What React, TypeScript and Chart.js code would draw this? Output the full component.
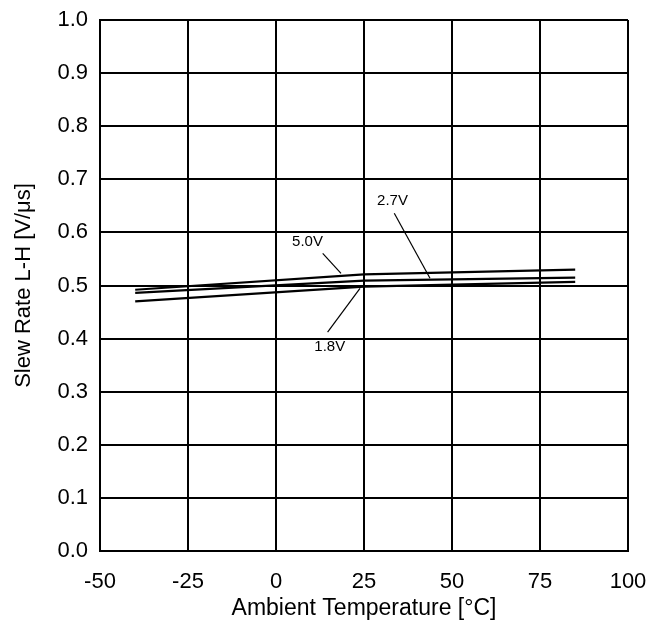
import React, { useEffect, useRef } from "react";
import { Chart, registerables } from "chart.js";

Chart.register(...registerables);

const temps = [-40, 25, 85];
const v50 = [0.492, 0.521, 0.53];
const v27 = [0.486, 0.509, 0.515];
const v18 = [0.47, 0.498, 0.507];

const xTicks = [-50, -25, 0, 25, 50, 75, 100];
const yTicks = [0, 0.1, 0.2, 0.3, 0.4, 0.5, 0.6, 0.7, 0.8, 0.9, 1.0];

const labelNames = ["5.0V", "2.7V", "1.8V"];
// label anchor [x, y], leader start [x, y], leader end [x, y] in data units
const labelAnchors = [
  [8.95, 0.583],
  [33.1, 0.66],
  [15.26, 0.384],
];
const leaderStarts = [
  [13.27, 0.5606],
  [33.6, 0.636],
  [14.66, 0.412],
];
const leaderEnds = [
  [18.47, 0.523],
  [43.75, 0.5136],
  [23.86, 0.4947],
];

const FONT = "Arial, 'Liberation Sans', sans-serif";

const annotationPlugin = {
  id: "curveLabels",
  afterDatasetsDraw(chart: any) {
    const { ctx, scales } = chart;
    const xs = scales.x;
    const ys = scales.y;
    ctx.save();
    ctx.strokeStyle = "#000";
    ctx.lineWidth = 1.2;
    ctx.fillStyle = "#000";
    ctx.font = `15px ${FONT}`;
    ctx.textAlign = "center";
    ctx.textBaseline = "middle";
    labelNames.forEach((name, i) => {
      ctx.beginPath();
      ctx.moveTo(xs.getPixelForValue(leaderStarts[i][0]), ys.getPixelForValue(leaderStarts[i][1]));
      ctx.lineTo(xs.getPixelForValue(leaderEnds[i][0]), ys.getPixelForValue(leaderEnds[i][1]));
      ctx.stroke();
      ctx.fillText(name, xs.getPixelForValue(labelAnchors[i][0]), ys.getPixelForValue(labelAnchors[i][1]));
    });
    ctx.restore();
  },
};

export default function App() {
  const ref = useRef<HTMLCanvasElement>(null);
  useEffect(() => {
    if (!ref.current) return;
    const mk = (data: number[], label: string) => ({
      label,
      data: temps.map((t, i) => ({ x: t, y: data[i] })),
      borderColor: "#000",
      backgroundColor: "#000",
      borderWidth: 2.2,
      pointRadius: 0,
      tension: 0,
      fill: false,
    });
    const chart = new Chart(ref.current, {
      type: "line",
      data: {
        datasets: [mk(v50, "5.0V"), mk(v27, "2.7V"), mk(v18, "1.8V")],
      },
      options: {
        animation: false,
        responsive: false,
        maintainAspectRatio: false,
        layout: { padding: { top: 20, right: 28, left: 0, bottom: 0 } },
        plugins: { legend: { display: false }, tooltip: { enabled: false } },
        scales: {
          x: {
            type: "linear",
            min: -50,
            max: 100,
            afterBuildTicks: (s: any) => {
              s.ticks = xTicks.map((v) => ({ value: v }));
            },
            afterFit: (s: any) => {
              s.height = 79;
              s.paddingLeft = 0;
              s.paddingRight = 0;
            },
            grid: { color: "#000", lineWidth: 2, drawTicks: false },
            border: { color: "#000", width: 2 },
            ticks: {
              color: "#000",
              font: { family: FONT, size: 22 },
              padding: 18,
              maxRotation: 0,
              callback: (v: any) => String(v),
            },
            title: {
              display: true,
              text: "Ambient Temperature [°C]",
              color: "#000",
              font: { family: FONT, size: 23 },
              padding: { top: 0, bottom: 8 },
            },
          },
          y: {
            type: "linear",
            min: 0,
            max: 1,
            afterBuildTicks: (s: any) => {
              s.ticks = yTicks.map((v) => ({ value: v }));
            },
            afterFit: (s: any) => {
              s.width = 100;
              s.paddingTop = 0;
              s.paddingBottom = 0;
            },
            grid: { color: "#000", lineWidth: 2, drawTicks: false },
            border: { color: "#000", width: 2 },
            ticks: {
              color: "#000",
              font: { family: FONT, size: 22 },
              padding: 12,
              callback: (v: any) => Number(v).toFixed(1),
            },
            title: {
              display: true,
              text: "Slew Rate L-H [V/μs]",
              color: "#000",
              font: { family: FONT, size: 22 },
              padding: { top: 11, bottom: 0 },
            },
          },
        },
      },
      plugins: [annotationPlugin],
    });
    return () => chart.destroy();
  }, []);
  return (
    <div style={{ position: "absolute", left: 0, top: 0, width: 656, height: 630, background: "#fff" }}>
      <canvas ref={ref} width={656} height={630} style={{ width: 656, height: 630 }} />
    </div>
  );
}
